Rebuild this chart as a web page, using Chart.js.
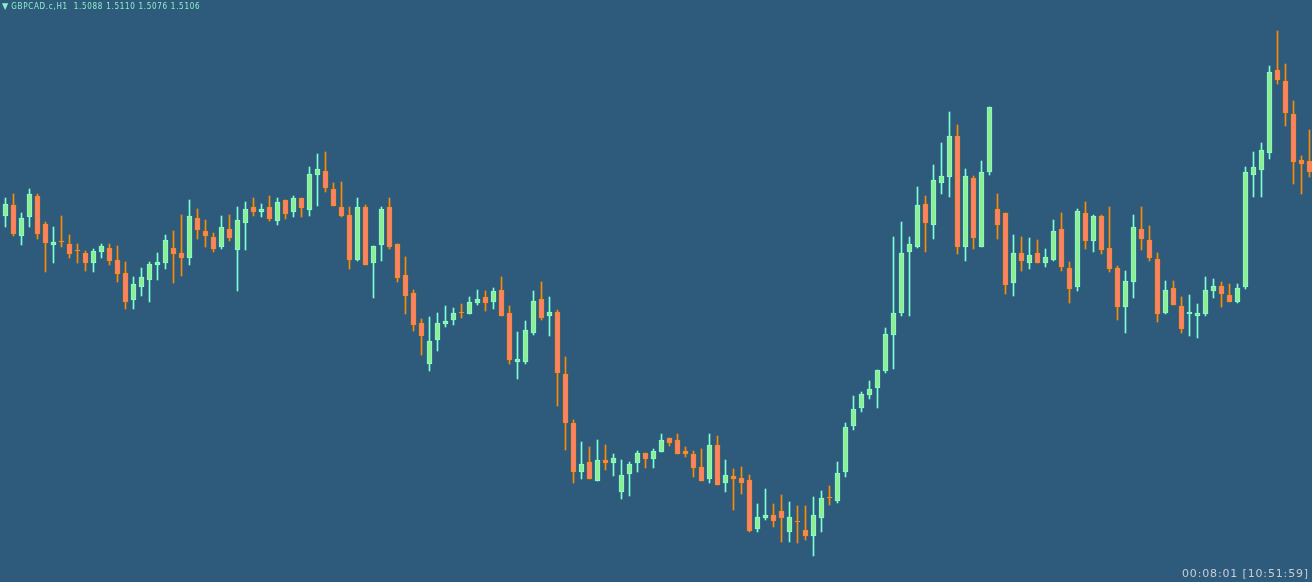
<!DOCTYPE html>
<html>
<head>
<meta charset="utf-8">
<script src="https://cdn.jsdelivr.net/npm/chart.js@4.4.1/dist/chart.umd.min.js"></script>
<style>
  html, body { margin: 0; padding: 0; background: #2e5a7b; overflow: hidden; }
  #wrap { position: relative; width: 1312px; height: 582px; }
  canvas { position: absolute; left: 0; top: 0; }
  #header {
    position: absolute; left: 2px; top: 0px; line-height: 12px;
    font-family: "DejaVu Sans Condensed", "DejaVu Sans", sans-serif; font-size: 8px;
    letter-spacing: 0.7px; color: #8ef0c8; white-space: pre;
  }
  #header .tri { font-size: 9px; margin-right: 3px; letter-spacing: 0; }
  #clock {
    position: absolute; right: 3px; top: 567px; line-height: 14px;
    font-family: "DejaVu Sans", sans-serif; font-size: 11px; letter-spacing: 0.85px;
    color: #c6ced8; white-space: pre;
  }
</style>
</head>
<body>
<div id="wrap">
  <canvas id="candleChart" width="1312" height="582"></canvas>
  <div id="header"><span class="tri">▼</span>GBPCAD.c,H1  1.5088 1.5110 1.5076 1.5106</div>
  <div id="clock">00:08:01 [10:51:59]</div>
</div>
<script>
// GBPCAD H1 candles, oldest first
var opens = [
  1.5084,1.5095,1.5064,1.5083,1.5104,1.5076,1.5055,1.5058,1.5056,1.5049,
  1.5047,1.5037,1.5048,1.5052,1.5040,1.5027,1.5000,1.5013,1.5020,1.5035,
  1.5037,1.5052,1.5047,1.5042,1.5082,1.5069,1.5063,1.5053,1.5071,1.5050,
  1.5077,1.5093,1.5088,1.5093,1.5079,1.5100,1.5088,1.5102,1.5090,1.5125,
  1.5129,1.5111,1.5093,1.5085,1.5040,1.5093,1.5037,1.5055,1.5093,1.5056,
  1.5025,1.5007,1.4977,1.4936,1.4960,1.4976,1.4980,1.4987,1.4986,1.4997,
  1.5003,1.4998,1.5010,1.4987,1.4938,1.4938,1.4967,1.5001,1.4984,1.4988,
  1.4926,1.4877,1.4828,1.4838,1.4819,1.4840,1.4837,1.4808,1.4826,1.4837,
  1.4847,1.4841,1.4848,1.4862,1.4860,1.4849,1.4846,1.4833,1.4821,1.4855,
  1.4817,1.4824,1.4822,1.4820,1.4771,1.4782,1.4785,1.4789,1.4768,1.4778,
  1.4770,1.4764,1.4782,1.4802,1.4799,1.4828,1.4874,1.4892,1.4905,1.4912,
  1.4929,1.4965,1.4987,1.5048,1.5053,1.5096,1.5075,1.5117,1.5123,1.5164,
  1.5053,1.5122,1.5053,1.5128,1.5091,1.5087,1.5017,1.5047,1.5037,1.5047,
  1.5037,1.5040,1.5071,1.5032,1.5013,1.5087,1.5059,1.5084,1.5052,1.5032,
  1.4993,1.5018,1.5071,1.5060,1.5041,1.4987,1.5012,1.4994,1.4986,1.4984,
  1.4986,1.5009,1.5014,1.5005,1.4998,1.5013,1.5125,1.5130,1.5147,1.5230,
  1.5219,1.5186,1.5140,1.5139
];
var highs = [
  1.5102,1.5106,1.5087,1.5111,1.5106,1.5078,1.5073,1.5084,1.5065,1.5056,
  1.5049,1.5051,1.5056,1.5056,1.5054,1.5038,1.5023,1.5032,1.5038,1.5047,
  1.5065,1.5069,1.5085,1.5100,1.5091,1.5080,1.5067,1.5084,1.5085,1.5093,
  1.5098,1.5102,1.5096,1.5104,1.5102,1.5100,1.5104,1.5102,1.5133,1.5146,
  1.5148,1.5117,1.5118,1.5093,1.5102,1.5095,1.5054,1.5093,1.5102,1.5056,
  1.5043,1.5010,1.4981,1.4983,1.4987,1.4994,1.4992,1.4996,1.5003,1.5010,
  1.5009,1.5012,1.5023,1.4994,1.4968,1.4979,1.5009,1.5018,1.5003,1.4990,
  1.4943,1.4880,1.4858,1.4853,1.4860,1.4855,1.4846,1.4840,1.4838,1.4849,
  1.4847,1.4851,1.4866,1.4862,1.4866,1.4853,1.4849,1.4851,1.4866,1.4864,
  1.4840,1.4831,1.4833,1.4825,1.4796,1.4811,1.4796,1.4805,1.4798,1.4794,
  1.4794,1.4803,1.4809,1.4814,1.4838,1.4877,1.4904,1.4908,1.4919,1.4930,
  1.4972,1.5063,1.5078,1.5063,1.5113,1.5104,1.5135,1.5157,1.5188,1.5175,
  1.5131,1.5124,1.5139,1.5193,1.5106,1.5087,1.5065,1.5063,1.5062,1.5060,
  1.5051,1.5080,1.5087,1.5038,1.5091,1.5098,1.5085,1.5085,1.5093,1.5034,
  1.5029,1.5085,1.5093,1.5074,1.5047,1.5019,1.5019,1.5003,1.5005,1.4996,
  1.5023,1.5021,1.5018,1.5016,1.5016,1.5133,1.5148,1.5157,1.5234,1.5269,
  1.5236,1.5199,1.5144,1.5170
];
var lows = [
  1.5073,1.5064,1.5055,1.5073,1.5061,1.5028,1.5037,1.5053,1.5042,1.5037,
  1.5029,1.5028,1.5042,1.5035,1.5018,1.4991,1.4991,1.5004,1.4998,1.5020,
  1.5031,1.5017,1.5024,1.5035,1.5061,1.5053,1.5048,1.5051,1.5059,1.5009,
  1.5050,1.5084,1.5083,1.5079,1.5075,1.5081,1.5083,1.5083,1.5084,1.5094,
  1.5108,1.5094,1.5083,1.5031,1.5039,1.5035,1.5002,1.5039,1.5051,1.5018,
  1.4986,1.4969,1.4945,1.4929,1.4949,1.4973,1.4975,1.4982,1.4986,1.4995,
  1.4989,1.4991,1.4984,1.4936,1.4921,1.4936,1.4965,1.4980,1.4964,1.4894,
  1.4850,1.4817,1.4821,1.4821,1.4819,1.4830,1.4824,1.4801,1.4804,1.4828,
  1.4832,1.4832,1.4848,1.4854,1.4846,1.4843,1.4823,1.4819,1.4817,1.4815,
  1.4808,1.4790,1.4806,1.4768,1.4768,1.4780,1.4773,1.4758,1.4758,1.4757,
  1.4760,1.4744,1.4768,1.4795,1.4797,1.4823,1.4870,1.4888,1.4901,1.4892,
  1.4927,1.4931,1.4984,1.4984,1.5052,1.5048,1.5061,1.5106,1.5103,1.5046,
  1.5039,1.5051,1.5053,1.5125,1.5061,1.5006,1.5004,1.5029,1.5031,1.5037,
  1.5033,1.5039,1.5029,1.4997,1.5009,1.5051,1.5048,1.5046,1.5028,1.4980,
  1.4967,1.5002,1.5050,1.5039,1.4978,1.4986,1.4995,1.4967,1.4964,1.4962,
  1.4984,1.5002,1.4993,1.4998,1.4997,1.5011,1.5103,1.5103,1.5141,1.5216,
  1.5174,1.5116,1.5106,1.5123
];
var closes = [
  1.5096,1.5066,1.5082,1.5106,1.5066,1.5057,1.5058,1.5058,1.5046,1.5049,
  1.5037,1.5049,1.5054,1.5039,1.5026,1.4998,1.5016,1.5023,1.5036,1.5038,
  1.5060,1.5046,1.5042,1.5084,1.5070,1.5064,1.5051,1.5073,1.5062,1.5080,
  1.5091,1.5088,1.5091,1.5081,1.5098,1.5086,1.5102,1.5092,1.5126,1.5131,
  1.5112,1.5094,1.5084,1.5040,1.5093,1.5035,1.5054,1.5091,1.5053,1.5022,
  1.5004,1.4975,1.4964,1.4959,1.4977,1.4979,1.4987,1.4987,1.4998,1.5001,
  1.4997,1.5009,1.4984,1.4940,1.4941,1.4970,1.4999,1.4982,1.4988,1.4927,
  1.4877,1.4828,1.4836,1.4821,1.4840,1.4837,1.4842,1.4825,1.4836,1.4847,
  1.4841,1.4849,1.4860,1.4857,1.4846,1.4846,1.4832,1.4819,1.4855,1.4815,
  1.4825,1.4821,1.4817,1.4769,1.4783,1.4785,1.4779,1.4782,1.4783,1.4778,
  1.4764,1.4785,1.4802,1.4802,1.4827,1.4873,1.4891,1.4906,1.4911,1.4930,
  1.4966,1.4987,1.5047,1.5056,1.5095,1.5077,1.5120,1.5124,1.5164,1.5053,
  1.5124,1.5062,1.5128,1.5193,1.5075,1.5015,1.5047,1.5039,1.5045,1.5037,
  1.5043,1.5069,1.5033,1.5011,1.5089,1.5059,1.5084,1.5050,1.5031,1.4993,
  1.5019,1.5073,1.5061,1.5042,1.4986,1.5010,1.4995,1.4971,1.4988,1.4987,
  1.5010,1.5014,1.5006,1.4998,1.5012,1.5128,1.5133,1.5150,1.5228,1.5220,
  1.5187,1.5138,1.5136,1.5128
];

var bullBody = '#90ee90', bullLine = '#7fffd4';
var bearBody = '#fa8072', bearLine = '#ff8c00';

var bodies = [], wicks = [], bodyFill = [], lineCol = [];
for (var i = 0; i < opens.length; i++) {
    var up = closes[i] > opens[i];
    bodies.push({x: i, y: [opens[i], closes[i]]});
    wicks.push({x: i, y: [lows[i], highs[i]]});
    bodyFill.push(up ? bullBody : bearBody);
    lineCol.push(up ? bullLine : bearLine);
}

var ctx = document.getElementById('candleChart').getContext('2d');
var candleChart = new Chart(ctx, {
    type: 'bar',
    data: {
        datasets: [{
            label: 'body',
            data: bodies,
            backgroundColor: bodyFill,
            borderColor: lineCol,
            borderWidth: 1,
            borderSkipped: false,
            barThickness: 5,
            minBarLength: 1,
            grouped: false,
            order: 0
        }, {
            label: 'wick',
            data: wicks,
            backgroundColor: lineCol,
            borderWidth: 0,
            barThickness: 1,
            grouped: false,
            order: 1
        }]
    },
    options: {
        responsive: false,
        animation: false,
        events: [],
        layout: { padding: 0 },
        plugins: { legend: { display: false }, tooltip: { enabled: false } },
        scales: {
            x: { type: 'linear', display: false, min: -0.6875, max: 163.3125, offset: false },
            y: { display: false, min: 1.4718, max: 1.5300 }
        }
    }
});
</script>
</body>
</html>
